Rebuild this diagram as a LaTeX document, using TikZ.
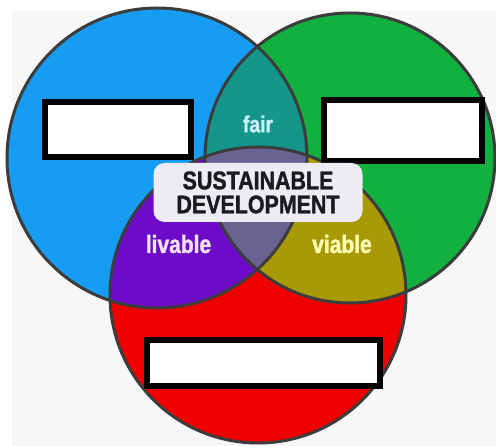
\documentclass[tikz,border=0pt]{standalone}
\usepackage{fontspec}
\setmainfont{Liberation Sans}
\newfontfamily\narrowbold[FakeStretch=0.84, FakeBold=1.4]{Liberation Sans Bold}
\usepackage{tikz}

\definecolor{backGray}{HTML}{F7F7F7}
\definecolor{ringGray}{HTML}{3C3C3C}
\definecolor{socBlue}{HTML}{169CF0}
\definecolor{envGreen}{HTML}{12B03E}
\definecolor{ecoRed}{HTML}{F00000}
\definecolor{fairTeal}{HTML}{14968A}
\definecolor{livPurple}{HTML}{6C0CC8}
\definecolor{viaOlive}{HTML}{A89A04}
\definecolor{coreGray}{HTML}{6A6290}
\definecolor{sdFill}{HTML}{EFEBF3}
\definecolor{sdText}{HTML}{1A1A22}

\begin{document}
\begin{tikzpicture}[
    x=1pt, y=-1pt,
    ring/.style = {draw=ringGray, line width=3pt},
    blank/.style = {draw=black, line width=6pt, fill=white, inner sep=0pt},
    tag/.style = {inner sep=0pt, font=\narrowbold\fontsize{25}{28}\selectfont},
  ]
  \useasboundingbox (0,0) rectangle (496,446);

  % light backdrop
  \fill[backGray] (12,10) rectangle (496,446);

  % circle centres
  \coordinate (blueC) at (157,158);
  \coordinate (greenC) at (350,158);
  \coordinate (redC) at (258,295);

  % the three discs
  \fill[socBlue] (blueC) circle[radius=150pt];
  \fill[envGreen] (greenC) circle[radius=145pt];
  \fill[ecoRed] (redC) circle[radius=148pt];

  % green and red overlap
  \begin{scope}
    \clip (greenC) circle[radius=145pt];
    \fill[viaOlive] (redC) circle[radius=148pt];
  \end{scope}

  % blue overlaps, and the middle
  \begin{scope}
    \clip (blueC) circle[radius=150pt];
    \fill[fairTeal] (greenC) circle[radius=145pt];
    \fill[livPurple] (redC) circle[radius=148pt];
    \clip (greenC) circle[radius=145pt];
    \fill[coreGray] (redC) circle[radius=148pt];
  \end{scope}

  % outlines
  \draw[ring] (blueC) circle[radius=150pt];
  \draw[ring] (greenC) circle[radius=145pt];
  \draw[ring] (redC) circle[radius=148pt];

  % empty boxes
  \node[blank, minimum width=146pt, minimum height=55pt] (boxL) at (118,129.5) {};
  \node[blank, minimum width=158pt, minimum height=61pt] (boxR) at (403,130.5) {};
  \node[blank, minimum width=233pt, minimum height=46pt] (boxB) at (263.5,363) {};

  % centre label
  \node[fill=sdFill, rounded corners=11pt, minimum width=209pt, minimum height=59pt,
        align=center, text=sdText, font=\narrowbold\fontsize{25.5}{24}\selectfont]
    (sd) at (258,192.5) {SUSTAINABLE\\DEVELOPMENT};

  % overlap words
  \node[tag, text=cyan!20, font=\narrowbold\fontsize{23}{26}\selectfont] (fair) at (258,124) {fair};
  \node[tag, text=violet!12] (livable) at (178.5,244) {livable};
  \node[tag, text=yellow!30] (viable) at (342,244) {viable};

\end{tikzpicture}
\end{document}
